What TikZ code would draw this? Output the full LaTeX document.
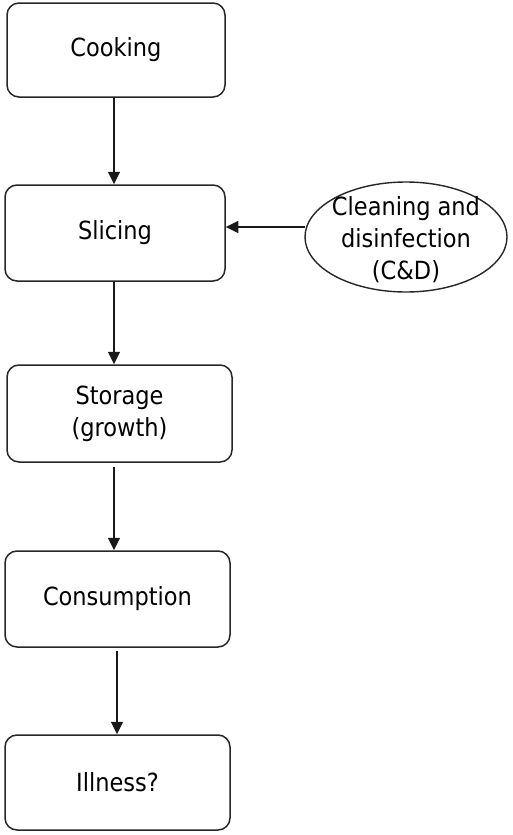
\documentclass[tikz,border=0pt]{standalone}
\usepackage{fontspec}
\setmainfont{DejaVu Sans Condensed}
\usetikzlibrary{arrows.meta,shapes.geometric}
\begin{document}
\begin{tikzpicture}[x=1pt,y=-1pt,
  box/.style={draw=black!85,line width=1.5pt,rounded corners=12pt,rectangle,inner sep=0pt,align=center,font=\fontsize{25}{32}\selectfont},
  oval/.style={draw=black!85,line width=1.4pt,ellipse,inner sep=0pt,align=center,font=\fontsize{25}{32}\selectfont},
  arr/.style={line width=1.5pt,draw=black!90,-{Triangle[length=12.5pt,width=12pt]}}]
\useasboundingbox (0,0) rectangle (513,835);
\node[box,minimum width=218pt,minimum height=94pt] (cook) at (116,50) {Cooking};
\node[box,minimum width=220pt,minimum height=96pt] (slice) at (115,233) {Slicing};
\node[box,minimum width=225pt,minimum height=97pt] (store) at (119.5,413.5) {Storage\\(growth)};
\node[box,minimum width=225pt,minimum height=96pt] (cons) at (117.5,599) {Consumption};
\node[box,minimum width=225pt,minimum height=95pt] (ill) at (117.5,782.5) {Illness?};
\node[oval,minimum width=202pt,minimum height=110pt] (cd) at (406,237) {\raisebox{-10pt}[0pt][0pt]{\makebox[0pt]{\begin{tabular}{@{}c@{}}Cleaning and\\disinfection\\(C\&D)\end{tabular}}}};
\draw[arr] ([xshift=-2pt]cook.south) -- ([xshift=-2pt]cook.south |- slice.north);
\draw[arr] ([xshift=-1pt]slice.south) -- ([xshift=-1pt]slice.south |- store.north);
\draw[arr] ([xshift=-5.5pt,yshift=-4pt]store.south) -- ([xshift=-5.5pt]store.south |- cons.north);
\draw[arr] ([xshift=-0.5pt,yshift=-3pt]cons.south) -- ([xshift=-0.5pt]cons.south |- ill.north);
\draw[arr] ([xshift=1pt,yshift=10pt]cd.west) -- ([yshift=10pt]cd.west -| slice.east);
\end{tikzpicture}
\end{document}
